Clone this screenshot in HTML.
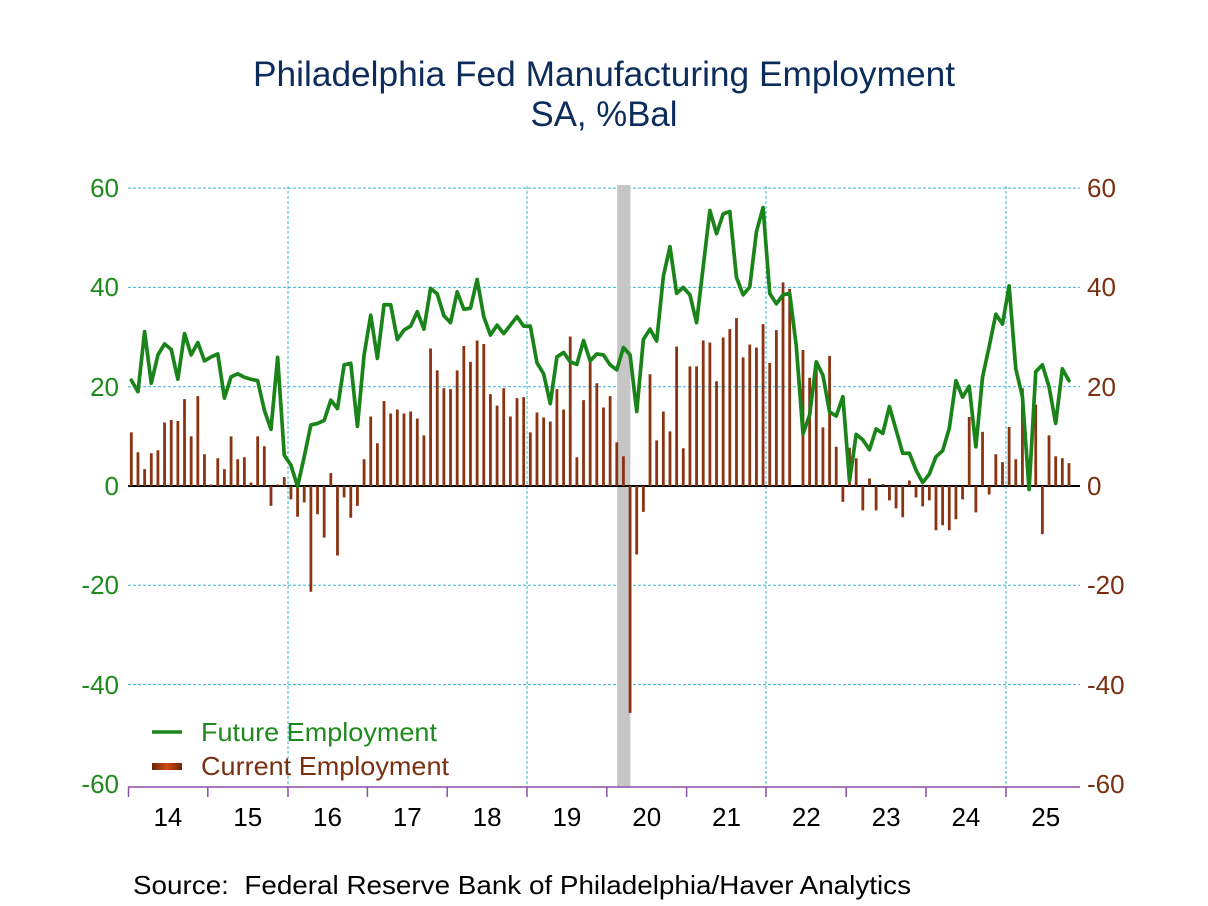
<!DOCTYPE html>
<html>
<head>
<meta charset="utf-8">
<style>
html,body{margin:0;padding:0;background:#fff;}
svg{display:block;}
text{font-family:"Liberation Sans",Arial,sans-serif;}
</style>
</head>
<body>
<svg width="1208" height="906" viewBox="0 0 1208 906" xmlns="http://www.w3.org/2000/svg">
<defs>
<linearGradient id="lg" x1="0" y1="0" x2="1" y2="0">
<stop offset="0" stop-color="#6a2408"/>
<stop offset="0.5" stop-color="#d04a14"/>
<stop offset="1" stop-color="#6a2408"/>
</linearGradient>
</defs>
<rect width="1208" height="906" fill="#fff"/>

<!-- Title -->
<text x="604" y="86" font-size="35" fill="#0c2c5c" text-anchor="middle" textLength="702" lengthAdjust="spacingAndGlyphs">Philadelphia Fed Manufacturing Employment</text>
<text x="604" y="126" font-size="35" fill="#0c2c5c" text-anchor="middle" textLength="147" lengthAdjust="spacingAndGlyphs">SA, %Bal</text>

<!-- horizontal gridlines -->
<g stroke="#38b4cc" stroke-width="1" stroke-dasharray="3,2" fill="none">
<line x1="128" y1="188.1" x2="1080" y2="188.1"/>
<line x1="128" y1="287.4" x2="1080" y2="287.4"/>
<line x1="128" y1="386.7" x2="1080" y2="386.7"/>
<line x1="128" y1="585.3" x2="1080" y2="585.3"/>
<line x1="128" y1="684.6" x2="1080" y2="684.6"/>
<!-- vertical gridlines -->
<line x1="288" y1="186" x2="288" y2="797"/>
<line x1="527" y1="186" x2="527" y2="797"/>
<line x1="766" y1="186" x2="766" y2="797"/>
<line x1="1006" y1="186" x2="1006" y2="797"/>
</g>

<!-- recession shading -->
<rect x="617.1" y="185" width="13.3" height="602" fill="#c6c6c6"/>

<!-- zero line -->
<line x1="128" y1="486" x2="1080" y2="486" stroke="#000" stroke-width="2"/>

<!-- bottom axis -->
<g stroke="#8a4fa8" stroke-width="1.5">
<line x1="128" y1="787" x2="1080" y2="787"/>
<line x1="128.5" y1="787" x2="128.5" y2="797"/>
<line x1="207.8" y1="787" x2="207.8" y2="797"/>
<line x1="288" y1="787" x2="288" y2="797"/>
<line x1="367.4" y1="787" x2="367.4" y2="797"/>
<line x1="447.2" y1="787" x2="447.2" y2="797"/>
<line x1="527" y1="787" x2="527" y2="797"/>
<line x1="606.8" y1="787" x2="606.8" y2="797"/>
<line x1="686.6" y1="787" x2="686.6" y2="797"/>
<line x1="766" y1="787" x2="766" y2="797"/>
<line x1="846.2" y1="787" x2="846.2" y2="797"/>
<line x1="926" y1="787" x2="926" y2="797"/>
<line x1="1006" y1="787" x2="1006" y2="797"/>
</g>

<!-- data -->
<g transform="translate(131.325,486) scale(6.65,-4.965)">
<path fill="none" stroke="#8b3412" stroke-width="2.8" vector-effect="non-scaling-stroke" d="M0 0V10.8M1 0V6.8M2 0V3.4M3 0V6.6M4 0V7.2M5 0V12.8M6 0V13.3M7 0V13.1M8 0V17.5M9 0V10M10 0V18.1M11 0V6.4
M12 0V0.3M13 0V5.6M14 0V3.4M15 0V10M16 0V5.4M17 0V5.8M18 0V0.7M19 0V10M20 0V8M21 0V-4M22 0V0.3M23 0V1.8
M24 0V-2.7M25 0V-6.2M26 0V-3.3M27 0V-21.3M28 0V-5.7M29 0V-10.4M30 0V2.6M31 0V-14M32 0V-2.3M33 0V-6.4M34 0V-4M35 0V5.4
M36 0V14M37 0V8.6M38 0V17.1M39 0V14.6M40 0V15.4M41 0V14.6M42 0V15M43 0V13.6M44 0V10.2M45 0V27.7M46 0V23.3M47 0V19.7
M48 0V19.5M49 0V23.3M50 0V28.2M51 0V25M52 0V29.3M53 0V28.6M54 0V18.5M55 0V16.2M56 0V19.7M57 0V14M58 0V17.7M59 0V17.9
M60 0V10.8M61 0V14.8M62 0V13.8M63 0V13M64 0V19.5M65 0V15.4M66 0V30.1M67 0V5.8M68 0V17.3M69 0V25.1M70 0V20.7M71 0V15.8
M72 0V18.1M73 0V8.8M74 0V6M75 0V-45.7M76 0V-13.8M77 0V-5.2M78 0V22.5M79 0V9.2M80 0V15M81 0V11M82 0V28.1M83 0V7.6
M84 0V24.1M85 0V24.1M86 0V29.3M87 0V28.9M88 0V21.1M89 0V29.9M90 0V31.6M91 0V33.8M92 0V25.9M93 0V28.5M94 0V27.9M95 0V32.6
M96 0V24.8M97 0V31.4M98 0V41M99 0V39.7M101 0V27.4M102 0V21.8M103 0V25M104 0V11.8M105 0V26.2M106 0V7.9M107 0V-3.2
M108 0V7.7M109 0V5.6M110 0V-4.9M111 0V1.5M112 0V-4.9M113 0V0.4M114 0V-2.9M115 0V-4.5M116 0V-6.3M117 0V1.1M118 0V-2.3M119 0V-4.1
M120 0V-2.9M121 0V-8.9M122 0V-7.9M123 0V-8.9M124 0V-6.7M125 0V-2.7M126 0V13.9M127 0V-5.3M128 0V10.9M129 0V-1.7M130 0V6.4M131 0V4.8
M132 0V11.9M133 0V5.4M134 0V19.7M136 0V16.4M137 0V-9.7M138 0V10.2M139 0V6M140 0V5.6M141 0V4.6"/>
<polyline fill="none" stroke="#1a841a" stroke-width="3.7" stroke-linejoin="round" stroke-linecap="round" vector-effect="non-scaling-stroke" points="0,21.3 1,19 2,31.1 3,20.7 4,26.4 5,28.6 6,27.5 7,21.5 8,30.7 9,26.4 10,28.9 11,25.2 12,26 13,26.6 14,17.7 15,22 16,22.6 17,21.9 18,21.5 19,21.2 20,15.3 21,11.4 22,25.9 23,6.2 24,4.2 25,-0.1 26,5.9 27,12.3 28,12.6 29,13.2 30,17.3 31,15.6 32,24.4 33,24.7 34,12 35,26.4 36,34.4 37,25.7 38,36.5 39,36.5 40,29.5 41,31.4 42,32.2 43,35.1 44,31.6 45,39.8 46,38.7 47,34.3 48,32.9 49,39.1 50,35.6 51,35.8 52,41.6 53,34.1 54,30.4 55,32.4 56,30.7 57,32.4 58,34.1 59,32.2 60,32.2 61,24.8 62,22.6 63,16.6 64,26 65,26.9 66,25 67,24.5 68,29.3 69,25.2 70,26.6 71,26.4 72,24.4 73,23.4 74,27.9 75,26.4 76,15 77,29.5 78,31.6 79,29.2 80,42.2 81,48.2 82,38.8 83,40 84,38.5 85,32.9 86,44.2 87,55.5 88,50.8 89,54.8 90,55.3 91,42 92,38.5 93,40.1 94,51.2 95,56.1 96,38.8 97,36.7 98,38.5 99,38.8 100,28.1 101,10.5 102,14.3 103,25 104,22.3 105,14.9 106,14.1 107,18 108,1 109,10.4 110,9.3 111,7.3 112,11.5 113,10.6 114,16 115,11.3 116,6.6 117,6.6 118,3.2 119,0.7 120,2.4 121,5.9 122,7.1 123,11.6 124,21.2 125,17.9 126,20.1 127,7.9 128,21.9 129,28.1 130,34.6 131,32.6 132,40.3 133,23.6 134,18 135,-0.7 136,23 137,24.4 138,20 139,12.6 140,23.6 141,21.2"/>
</g>

<!-- left axis labels -->
<g font-size="26" fill="#1e8a1e" text-anchor="end">
<text x="119" y="197">60</text>
<text x="119" y="296">40</text>
<text x="119" y="396">20</text>
<text x="119" y="495">0</text>
<text x="119" y="594">-20</text>
<text x="119" y="694">-40</text>
<text x="119" y="793">-60</text>
</g>

<!-- right axis labels -->
<g font-size="26" fill="#7a3010" text-anchor="start">
<text x="1087" y="197">60</text>
<text x="1087" y="296">40</text>
<text x="1087" y="396">20</text>
<text x="1087" y="495">0</text>
<text x="1087" y="594">-20</text>
<text x="1087" y="694">-40</text>
<text x="1087" y="793">-60</text>
</g>

<!-- x labels -->
<g font-size="26" fill="#000" text-anchor="middle">
<text x="167.9" y="826">14</text>
<text x="247.7" y="826">15</text>
<text x="327.5" y="826">16</text>
<text x="407.3" y="826">17</text>
<text x="487.1" y="826">18</text>
<text x="566.9" y="826">19</text>
<text x="646.7" y="826">20</text>
<text x="726.5" y="826">21</text>
<text x="806.3" y="826">22</text>
<text x="886.1" y="826">23</text>
<text x="965.9" y="826">24</text>
<text x="1045.7" y="826">25</text>
</g>

<!-- legend -->
<line x1="152" y1="732" x2="182" y2="732" stroke="#1a841a" stroke-width="3.5"/>
<text x="201" y="741" font-size="26" fill="#1e8a1e" textLength="236" lengthAdjust="spacingAndGlyphs">Future Employment</text>
<rect x="152" y="763" width="30" height="7" fill="url(#lg)"/>
<text x="201" y="775" font-size="26" fill="#7a3010" textLength="248" lengthAdjust="spacingAndGlyphs">Current Employment</text>

<!-- source -->
<text x="133" y="894" font-size="26" fill="#000" textLength="778" lengthAdjust="spacingAndGlyphs" style="white-space:pre">Source:  Federal Reserve Bank of Philadelphia/Haver Analytics</text>
</svg>
</body>
</html>
